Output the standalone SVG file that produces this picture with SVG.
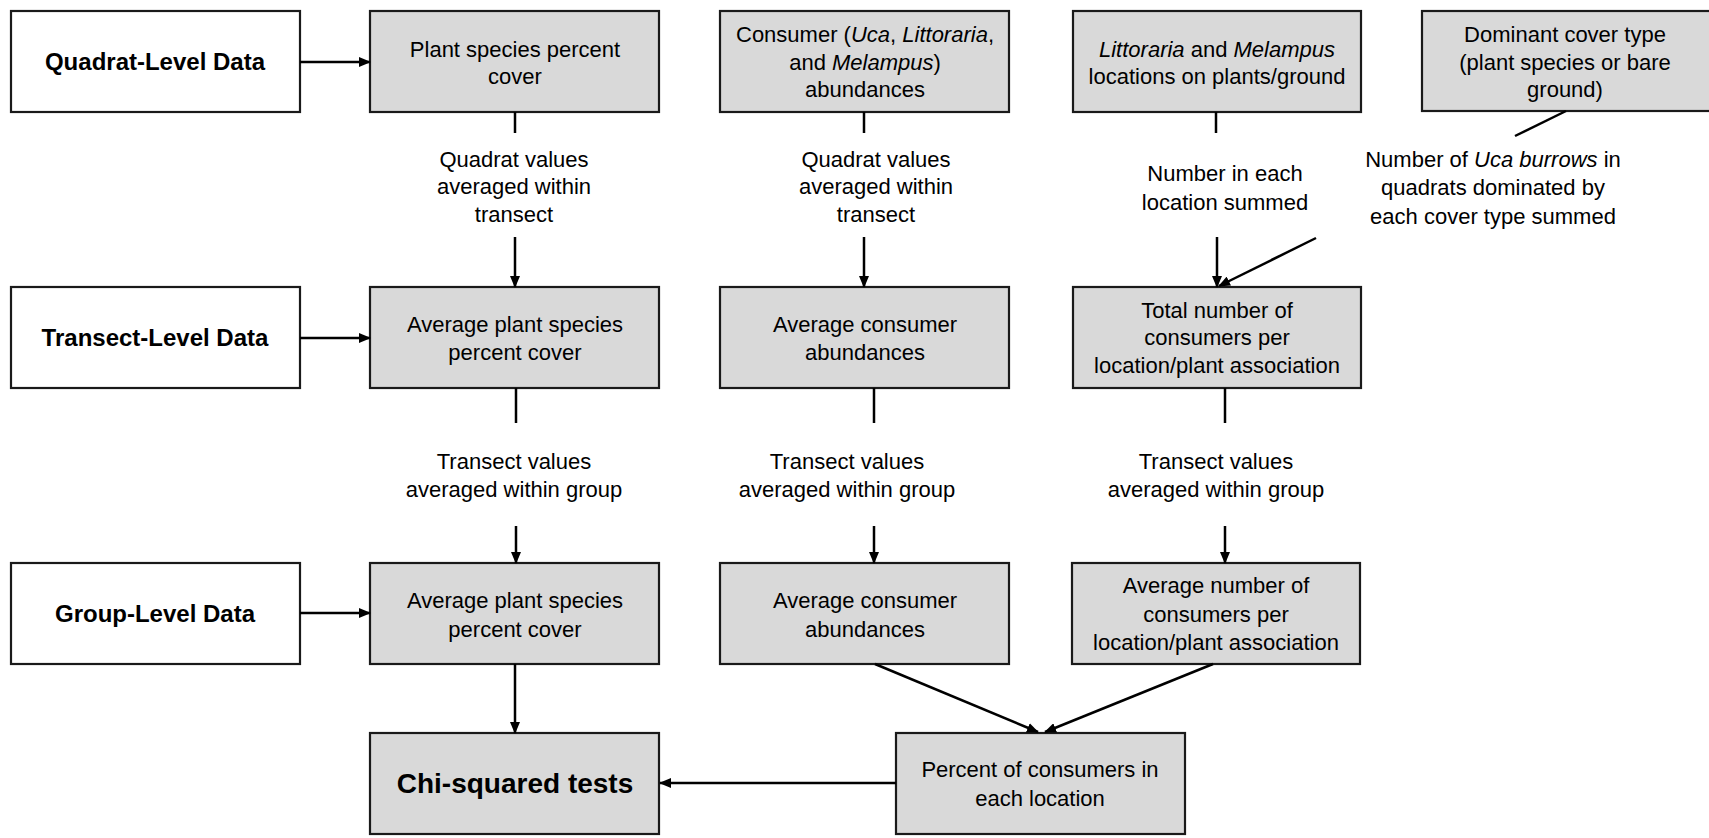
<svg xmlns="http://www.w3.org/2000/svg" width="1709" height="838" viewBox="0 0 1709 838">
<style>
.box{fill:#d9d9d9;stroke:#1a1a1a;stroke-width:2.2}
.wbox{fill:#ffffff;stroke:#1a1a1a;stroke-width:2.2}
text{font-family:"Liberation Sans",Arial,sans-serif;fill:#000;text-anchor:middle}
.t{font-size:22px}
.b{font-size:24px;font-weight:bold}
.c{font-size:28px;font-weight:bold}
.i{font-style:italic}
.ln{stroke:#000;stroke-width:2.5;fill:none}
.ar{stroke:#000;stroke-width:2.5;fill:none;marker-end:url(#ah)}
</style>
<defs>
<marker id="ah" markerUnits="userSpaceOnUse" markerWidth="12" markerHeight="10" refX="11" refY="5" orient="auto" viewBox="0 0 12 10">
<path d="M0,0 L12,5 L0,10 z" fill="#000"/>
</marker>
</defs>
<rect width="1709" height="838" fill="#fff"/>

<g id="quadrat-level">
<rect class="wbox" x="11" y="11" width="289" height="101"/>
<text class="b" x="155" y="70">Quadrat-Level Data</text>
</g>
<g id="plant-cover">
<rect class="box" x="370" y="11" width="289" height="101"/>
<text class="t" x="515" y="57">Plant species percent</text>
<text class="t" x="515" y="84">cover</text>
</g>
<g id="consumer-abund">
<rect class="box" x="720" y="11" width="289" height="101"/>
<text class="t" x="865" y="42">Consumer (<tspan class="i">Uca</tspan>, <tspan class="i">Littoraria</tspan>,</text>
<text class="t" x="865" y="70">and <tspan class="i">Melampus</tspan>)</text>
<text class="t" x="865" y="97">abundances</text>
</g>
<g id="locations">
<rect class="box" x="1073" y="11" width="288" height="101"/>
<text class="t" x="1217" y="57"><tspan class="i">Littoraria</tspan> and <tspan class="i">Melampus</tspan></text>
<text class="t" x="1217" y="84">locations on plants/ground</text>
</g>
<g id="dominant-cover">
<rect class="box" x="1422" y="11" width="296" height="100"/>
<text class="t" x="1565" y="42">Dominant cover type</text>
<text class="t" x="1565" y="70">(plant species or bare</text>
<text class="t" x="1565" y="97">ground)</text>
</g>

<g id="transect-level">
<rect class="wbox" x="11" y="287" width="289" height="101"/>
<text class="b" x="155" y="346">Transect-Level Data</text>
</g>
<g id="avg-plant-transect">
<rect class="box" x="370" y="287" width="289" height="101"/>
<text class="t" x="515" y="332">Average plant species</text>
<text class="t" x="515" y="360">percent cover</text>
</g>
<g id="avg-consumer-transect">
<rect class="box" x="720" y="287" width="289" height="101"/>
<text class="t" x="865" y="332">Average consumer</text>
<text class="t" x="865" y="360">abundances</text>
</g>
<g id="total-number">
<rect class="box" x="1073" y="287" width="288" height="101"/>
<text class="t" x="1217" y="318">Total number of</text>
<text class="t" x="1217" y="345">consumers per</text>
<text class="t" x="1217" y="373">location/plant association</text>
</g>

<g id="group-level">
<rect class="wbox" x="11" y="563" width="289" height="101"/>
<text class="b" x="155" y="622">Group-Level Data</text>
</g>
<g id="avg-plant-group">
<rect class="box" x="370" y="563" width="289" height="101"/>
<text class="t" x="515" y="608">Average plant species</text>
<text class="t" x="515" y="637">percent cover</text>
</g>
<g id="avg-consumer-group">
<rect class="box" x="720" y="563" width="289" height="101"/>
<text class="t" x="865" y="608">Average consumer</text>
<text class="t" x="865" y="637">abundances</text>
</g>
<g id="avg-number">
<rect class="box" x="1072" y="563" width="288" height="101"/>
<text class="t" x="1216" y="593">Average number of</text>
<text class="t" x="1216" y="622">consumers per</text>
<text class="t" x="1216" y="650">location/plant association</text>
</g>

<g id="chi-squared">
<rect class="box" x="370" y="733" width="289" height="101"/>
<text class="c" x="515" y="793">Chi-squared tests</text>
</g>
<g id="percent-consumers">
<rect class="box" x="896" y="733" width="289" height="101"/>
<text class="t" x="1040" y="777">Percent of consumers in</text>
<text class="t" x="1040" y="806">each location</text>
</g>

<g id="labels">
<text class="t" x="514" y="167">Quadrat values</text>
<text class="t" x="514" y="194">averaged within</text>
<text class="t" x="514" y="222">transect</text>
<text class="t" x="876" y="167">Quadrat values</text>
<text class="t" x="876" y="194">averaged within</text>
<text class="t" x="876" y="222">transect</text>
<text class="t" x="1225" y="181">Number in each</text>
<text class="t" x="1225" y="210">location summed</text>
<text class="t" x="1493" y="167">Number of <tspan class="i">Uca burrows</tspan> in</text>
<text class="t" x="1493" y="195">quadrats dominated by</text>
<text class="t" x="1493" y="224">each cover type summed</text>
<text class="t" x="514" y="469">Transect values</text>
<text class="t" x="514" y="497">averaged within group</text>
<text class="t" x="847" y="469">Transect values</text>
<text class="t" x="847" y="497">averaged within group</text>
<text class="t" x="1216" y="469">Transect values</text>
<text class="t" x="1216" y="497">averaged within group</text>
</g>

<g id="connectors">
<line class="ar" x1="300" y1="62" x2="370" y2="62"/>
<line class="ar" x1="300" y1="338" x2="370" y2="338"/>
<line class="ar" x1="300" y1="613" x2="370" y2="613"/>

<line class="ln" x1="515" y1="112" x2="515" y2="133"/>
<line class="ar" x1="515" y1="237" x2="515" y2="287"/>
<line class="ln" x1="516" y1="388" x2="516" y2="423"/>
<line class="ar" x1="516" y1="526" x2="516" y2="563"/>
<line class="ar" x1="515" y1="664" x2="515" y2="733"/>

<line class="ln" x1="864" y1="112" x2="864" y2="133"/>
<line class="ar" x1="864" y1="237" x2="864" y2="287"/>
<line class="ln" x1="874" y1="388" x2="874" y2="423"/>
<line class="ar" x1="874" y1="526" x2="874" y2="563"/>

<line class="ln" x1="1216" y1="112" x2="1216" y2="133"/>
<line class="ar" x1="1217" y1="237" x2="1217" y2="287"/>
<line class="ln" x1="1225" y1="388" x2="1225" y2="423"/>
<line class="ar" x1="1225" y1="526" x2="1225" y2="563"/>

<line class="ln" x1="1566" y1="111" x2="1515" y2="136"/>
<line class="ar" x1="1316" y1="238" x2="1219" y2="286"/>

<line class="ar" x1="875" y1="664" x2="1038" y2="732"/>
<line class="ar" x1="1213" y1="664" x2="1045" y2="732"/>
<line class="ar" x1="896" y1="783" x2="660" y2="783"/>
</g>
</svg>
